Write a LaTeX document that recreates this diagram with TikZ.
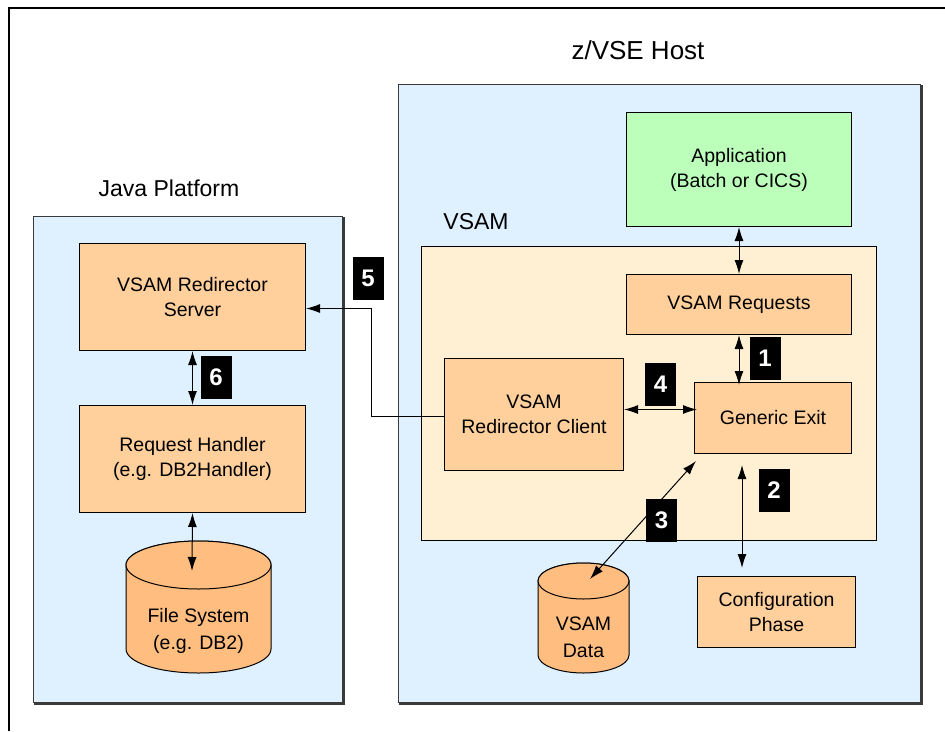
\documentclass[tikz,border=0pt]{standalone}
\usepackage{fontspec}
\setmainfont{Liberation Sans}
\usetikzlibrary{arrows.meta}
\definecolor{bluebg}{HTML}{DFF0FF}
\definecolor{beigebg}{HTML}{FFF0D4}
\definecolor{orangebox}{HTML}{FFD09C}
\definecolor{greenbox}{HTML}{BBFFBB}
\definecolor{cylfill}{HTML}{FFBE80}
\definecolor{edgegray}{HTML}{3A3A3A}
\begin{document}
\begin{tikzpicture}[x=1pt,y=-1pt,
  container/.style={draw=edgegray, line width=1.3pt, fill=bluebg, inner sep=0pt, anchor=north west},
  shadowline/.style={draw=edgegray, line width=2.6pt},
  inner/.style={draw=black, line width=1pt, fill=beigebg, inner sep=0pt, anchor=north west},
  box/.style={draw=black, line width=1pt, fill=orangebox, inner sep=0pt, anchor=north west,
    align=center, font=\fontsize{19.5}{25}\selectfont},
  cyl/.style={draw=black, line width=1pt, fill=cylfill},
  cyltext/.style={align=center, font=\fontsize{19.5}{27}\selectfont},
  title/.style={font=\fontsize{23}{28}\selectfont},
  badge/.style={fill=black, text=white, inner sep=0pt, minimum width=31pt, minimum height=43pt,
    font=\bfseries\fontsize{24}{24}\selectfont},
  dbl/.style={{Latex[length=14pt,width=9pt]}-{Latex[length=14pt,width=9pt]}, line width=1pt},
  sgl/.style={-{Latex[length=14pt,width=9pt]}, line width=1pt}
]
\useasboundingbox (0,0) rectangle (945,731);
\fill[white] (0,0) rectangle (945,731);
% outer frame
\draw[line width=2pt] (9,731) -- (9,8) -- (945,8);

% containers
\node[container, minimum width=309pt, minimum height=486pt] (java) at (33,216) {};
\draw[shadowline] ([yshift=-1pt]java.north east) -- (java.south east) -- ([xshift=1pt]java.south west);
\node[container, minimum width=522pt, minimum height=618pt] (zvse) at (398,84) {};
\draw[shadowline] ([yshift=-1pt]zvse.north east) -- (zvse.south east) -- ([xshift=1pt]zvse.south west);

\node[title, font=\fontsize{26}{30}\selectfont] (zvsetitle) at (638,50) {z/VSE Host};
\node[title] (javatitle) at (169,188) {Java Platform};

% VSAM inner area
\node[inner, minimum width=455pt, minimum height=294pt] (vsam) at (421,246) {};
\node[title] (vsamtitle) at (476,222) {VSAM};

% boxes
\node[box, fill=greenbox, minimum width=225pt, minimum height=114pt] (app) at (626,112) {Application\\(Batch or CICS)};
\node[box, minimum width=225pt, minimum height=60pt] (vreq) at (626,274) {VSAM Requests};
\node[box, minimum width=157pt, minimum height=71pt] (gexit) at (694,382) {Generic Exit};
\node[box, minimum width=179pt, minimum height=112pt] (client) at (444,358) {VSAM\\Redirector Client};
\node[box, minimum width=158pt, minimum height=71pt] (cfg) at (697,576) {Configuration\\Phase};
\node[box, minimum width=226pt, minimum height=107pt] (srv) at (79,243) {VSAM Redirector\\Server};
\node[box, minimum width=226pt, minimum height=107pt] (rh) at (79,405) {Request Handler\\(e.g. DB2Handler)};

% VSAM Data cylinder
\filldraw[cyl] (538,581) -- (538,655) arc[start angle=180, end angle=0, x radius=45.5, y radius=18]
  -- (629,581) arc[start angle=0, end angle=-180, x radius=45.5, y radius=18] -- cycle;
\draw[cyl] (583.5,581) ellipse[x radius=45.5, y radius=18];
\node[cyltext] (vdata) at (583.5,637) {VSAM\\Data};
\coordinate (vdatatop) at (590,579);

% File System cylinder
\filldraw[cyl] (126,565) -- (126,649) arc[start angle=180, end angle=0, x radius=72.5, y radius=24]
  -- (271,565) arc[start angle=0, end angle=-180, x radius=72.5, y radius=24] -- cycle;
\draw[cyl] (198.5,565) ellipse[x radius=72.5, y radius=24];
\node[cyltext] (fsys) at (198.5,631) {File System\\(e.g. DB2)};
\coordinate (fstop) at (192,571);

% connectors
\draw[dbl] (app.south) -- (vreq.north);
\draw[dbl] (vreq.south) -- ([yshift=-3pt]vreq.south |- gexit.north);
\draw[dbl] ([yshift=5pt]client.east) -- ([yshift=5pt,xshift=3pt]client.east -| gexit.west);
\coordinate (c2top) at (742,465);
\coordinate (c2bot) at (742,568);
\draw[dbl] (c2bot) -- (c2top);
\coordinate (c3top) at (696,461);
\draw[dbl] (vdatatop) -- (c3top);
\draw[sgl] ([yshift=-2pt]client.west) -- ++(-73,0) |- ([yshift=-11.5pt]srv.east);
\draw[dbl] (srv.south) -- (rh.north);
\draw[dbl] (rh.south) -- (fstop);

% badges
\node[badge] (b1) at (765,358.5) {1};
\node[badge] (b2) at (774,490) {2};
\node[badge] (b3) at (661.5,520) {3};
\node[badge] (b4) at (660.5,384.5) {4};
\node[badge] (b5) at (368,278) {5};
\node[badge] (b6) at (216,377.5) {6};
\end{tikzpicture}
\end{document}
